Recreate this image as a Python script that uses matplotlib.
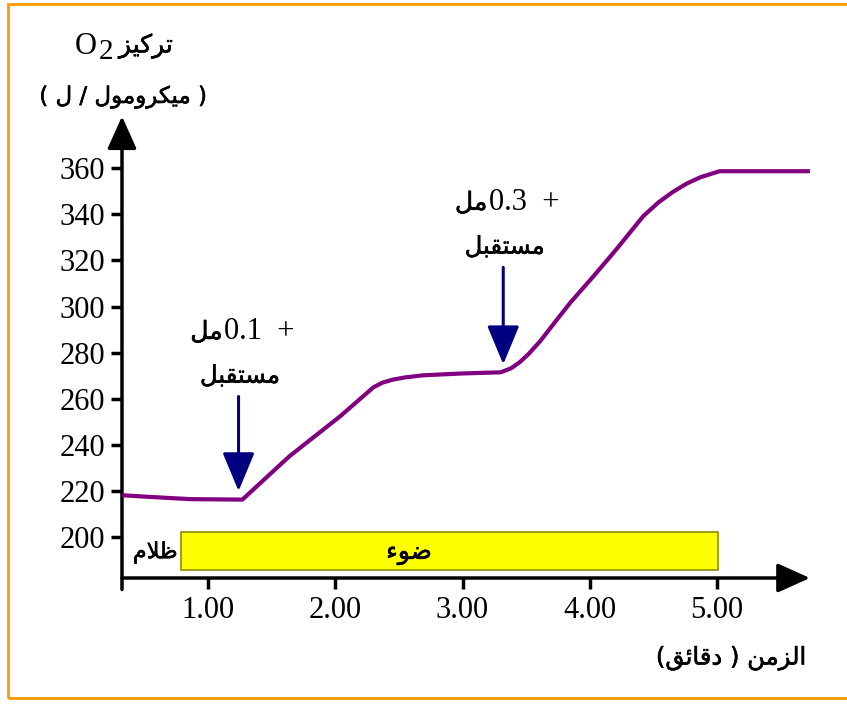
import matplotlib
matplotlib.use("Agg")
import matplotlib.pyplot as plt
import matplotlib.patheffects as pe
from matplotlib.patches import Rectangle

# O2 concentration (micromol/L) vs time (min)
t_min = [0.32, 0.53, 0.86, 1.27, 1.64, 2.04, 2.30, 2.37, 2.45, 2.55, 2.69, 3.00, 3.30,
         3.38, 3.45, 3.52, 3.61, 3.73, 3.85, 4.03, 4.21, 4.42, 4.54, 4.65, 4.76, 4.87,
         5.02, 5.73]
o2 = [218.2, 217.5, 216.5, 216.3, 235.1, 252.5, 265.0, 267.0, 268.3, 269.3, 270.2, 271.0,
      271.5, 273.2, 275.9, 279.5, 285.0, 293.5, 301.9, 313.2, 324.9, 339.2, 345.2, 349.6,
      353.3, 356.1, 358.7, 358.7]

xticks = [1, 2, 3, 4, 5]
xticklabels = ["1.00", "2.00", "3.00", "4.00", "5.00"]
yticks = [200, 220, 240, 260, 280, 300, 320, 340, 360]

# acceptor additions: (time, arrow tail, arrow tip, label)
additions = [(1.24, 261, 220, "0.1"), (3.32, 317, 275, "0.3")]
light_start, light_end = 0.79, 5.01

# simple arabic shaping: isolated, final, initial, medial
FORMS = {
    'ا': ('\uFE8D', '\uFE8E', None, None),
    'ب': ('\uFE8F', '\uFE90', '\uFE91', '\uFE92'),
    'ت': ('\uFE95', '\uFE96', '\uFE97', '\uFE98'),
    'د': ('\uFEA9', '\uFEAA', None, None),
    'ر': ('\uFEAD', '\uFEAE', None, None),
    'ز': ('\uFEAF', '\uFEB0', None, None),
    'س': ('\uFEB1', '\uFEB2', '\uFEB3', '\uFEB4'),
    'ض': ('\uFEBD', '\uFEBE', '\uFEBF', '\uFEC0'),
    'ظ': ('\uFEC5', '\uFEC6', '\uFEC7', '\uFEC8'),
    'ق': ('\uFED5', '\uFED6', '\uFED7', '\uFED8'),
    'ك': ('\uFED9', '\uFEDA', '\uFEDB', '\uFEDC'),
    'ل': ('\uFEDD', '\uFEDE', '\uFEDF', '\uFEE0'),
    'م': ('\uFEE1', '\uFEE2', '\uFEE3', '\uFEE4'),
    'ن': ('\uFEE5', '\uFEE6', '\uFEE7', '\uFEE8'),
    'و': ('\uFEED', '\uFEEE', None, None),
    'ي': ('\uFEF1', '\uFEF2', '\uFEF3', '\uFEF4'),
    'ئ': ('\uFE89', '\uFE8A', '\uFE8B', '\uFE8C'),
    'ء': ('\uFE80', None, None, None),
}
MIRROR = {'(': ')', ')': '('}


def ar(text):
    out = []
    i = 0
    n = len(text)
    while i < n:
        c = text[i]
        if c not in FORMS:
            out.append(c)
            i += 1
            continue
        prev = text[i - 1] if i > 0 else ''
        link_prev = (prev in FORMS and FORMS[prev][2] is not None
                     and FORMS[c][1] is not None)
        if c == 'ل' and i + 1 < n and text[i + 1] == 'ا':
            out.append('\uFEFC' if link_prev else '\uFEFB')
            i += 2
            continue
        nxt = text[i + 1] if i + 1 < n else ''
        link_next = (FORMS[c][2] is not None and nxt in FORMS
                     and FORMS[nxt][1] is not None)
        iso, fin, ini, med = FORMS[c]
        if link_prev and link_next:
            out.append(med)
        elif link_prev:
            out.append(fin)
        elif link_next:
            out.append(ini)
        else:
            out.append(iso)
        i += 1
    return ''.join(MIRROR.get(ch, ch) for ch in reversed(out))


serif = 'Liberation Serif'
arab = 'DejaVu Sans'
heavy_ar = [pe.withStroke(linewidth=0.4, foreground='black')]

fig = plt.figure(figsize=(8.47, 7.04), dpi=100)
ax = fig.add_axes([122 / 847, 1 - 578 / 704, 698 / 847, 468 / 704])
ax.set_xlim(0.324, 0.324 + 698 / 127.25)
ax.set_ylim(182.3, 182.3 + 468 / 2.306)
x0, x1 = ax.get_xlim()
y0, y1 = ax.get_ylim()

for s in ax.spines.values():
    s.set_visible(False)

# axes with arrow heads
ax.annotate('', xy=(5.73, y0), xytext=(x0, y0),
            arrowprops=dict(arrowstyle='-|>,head_length=1.0,head_width=0.45',
                            lw=2.5, color='black', mutation_scale=20, shrinkA=0, shrinkB=0),
            annotation_clip=False)
ax.annotate('', xy=(x0, 382.5), xytext=(x0, y0 - 5),
            arrowprops=dict(arrowstyle='-|>,head_length=1.0,head_width=0.45',
                            lw=2.5, color='black', mutation_scale=20, shrinkA=0, shrinkB=0),
            annotation_clip=False)

ax.set_xticks(xticks)
ax.set_xticklabels(xticklabels, fontfamily=serif, fontsize=22)
ax.set_yticks(yticks)
ax.set_yticklabels([str(v) for v in yticks], fontfamily=serif, fontsize=22)
ax.tick_params(axis='both', direction='out', length=8, width=2.5, color='black')
ax.tick_params(axis='x', pad=5)
ax.tick_params(axis='y', pad=4)

# light period bar
ax.add_patch(Rectangle((light_start, 185.7), light_end - light_start, 16.5,
                       facecolor='#FFFF00', edgecolor='#8C8C00', lw=1.2, zorder=2))
ax.text(2.58, 193.2, ar('ضوء'), family=arab, fontsize=18,
        ha='center', va='center', zorder=3, path_effects=heavy_ar)
ax.text(0.585, 193.5, ar('ظلام'), family=arab, fontsize=16,
        ha='center', va='center', path_effects=heavy_ar)

ax.plot(t_min, o2, color='#800080', lw=3, solid_capstyle='butt', zorder=4)

for tx, tail, tip, vol in additions:
    ax.annotate('', xy=(tx, tip), xytext=(tx, tail),
                arrowprops=dict(arrowstyle='-|>,head_length=1.2,head_width=0.5',
                                lw=2.2, color='#000080', mutation_scale=20,
                                shrinkA=0, shrinkB=0),
                zorder=5)
    ax.text(tx - 0.125, tail + 28, ar('مل'), family=arab, fontsize=18,
            ha='right', va='center', path_effects=heavy_ar)
    ax.text(tx - 0.115, tail + 28, vol + '  +', family=serif, fontsize=22,
            ha='left', va='center')
    ax.text(tx + 0.01, tail + 9, ar('مستقبل'), family=arab, fontsize=17.5,
            ha='center', va='center', path_effects=heavy_ar)

# axis titles
fig.text(86 / 847, 1 - 47 / 704, 'O', family=serif, fontsize=22,
         ha='center', va='center')
fig.text(106 / 847, 1 - 52 / 704, '2', family=serif, fontsize=21,
         ha='center', va='center')
fig.text(146 / 847, 1 - 46 / 704, ar('تركيز'), family=arab, fontsize=18,
         ha='center', va='center', path_effects=heavy_ar)
fig.text(123 / 847, 1 - 97 / 704, ar('( ميكرومول / ل )'), family=arab, fontsize=16.5,
         ha='center', va='center', path_effects=heavy_ar)
fig.text(731 / 847, 1 - 658 / 704, ar('الزمن ( دقائق)'), family=arab, fontsize=17.5,
         ha='center', va='center', path_effects=heavy_ar)

# orange frame
fig.patches.append(Rectangle((8 / 847, 6 / 704), 1.05, 1 - 10 / 704,
                             transform=fig.transFigure, fill=False,
                             edgecolor='#FF9900', lw=2, clip_on=True))

fig.savefig('out.png', dpi=100)
